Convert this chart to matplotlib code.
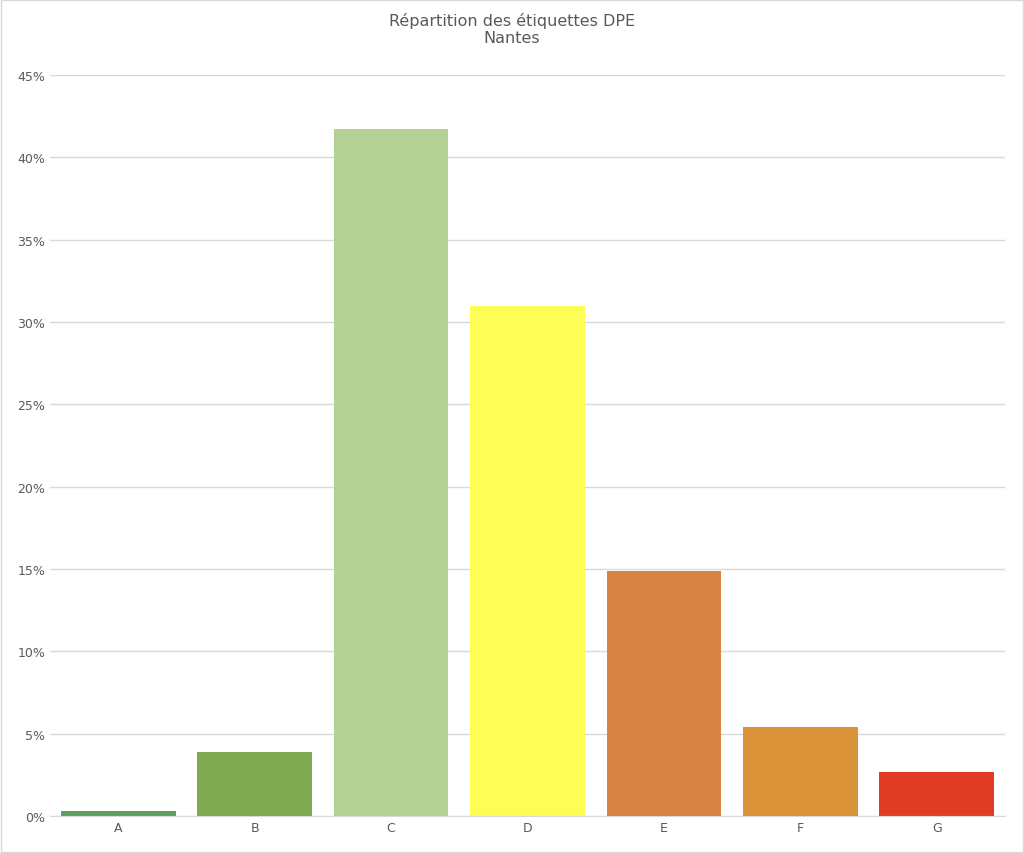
import matplotlib.pyplot as plt
from matplotlib.ticker import FuncFormatter

labels = ['A', 'B', 'C', 'D', 'E', 'F', 'G']
values = [0.3, 3.9, 41.7, 31.0, 14.9, 5.4, 2.7]
colors = ['#5a9e60', '#7faa52', '#b5d095', '#fdfd55', '#d88244', '#da9339', '#e03b24']

fig = plt.figure(figsize=(10.24, 8.54), dpi=100)
ax = fig.add_axes([50/1024, 1-817/854, 955/1024, (817-76)/854])

ax.bar(range(len(labels)), values, width=0.84, color=colors, zorder=2)

ax.set_xlim(-0.5, len(labels) - 0.5)
ax.set_ylim(0, 45)
ax.set_yticks(range(0, 46, 5))
ax.yaxis.set_major_formatter(FuncFormatter(lambda v, p: f"{int(v)}%"))
ax.set_xticks(range(len(labels)))
ax.set_xticklabels(labels)
ax.grid(axis='y', color='#d9d9d9', linewidth=1, zorder=0)
for s in ['top', 'right', 'left']:
    ax.spines[s].set_visible(False)
ax.spines['bottom'].set_color('#d9d9d9')
ax.tick_params(length=0, colors='#595959', labelsize=9)

fig.suptitle("Répartition des étiquettes DPE\nNantes", y=0.985, fontsize=11.5, color='#595959')
fig.patches.append(plt.Rectangle((0.001, 0.001), 0.998, 0.998, transform=fig.transFigure,
                                 fill=False, edgecolor='#d9d9d9', linewidth=1))

fig.savefig('out.png', dpi=100)
